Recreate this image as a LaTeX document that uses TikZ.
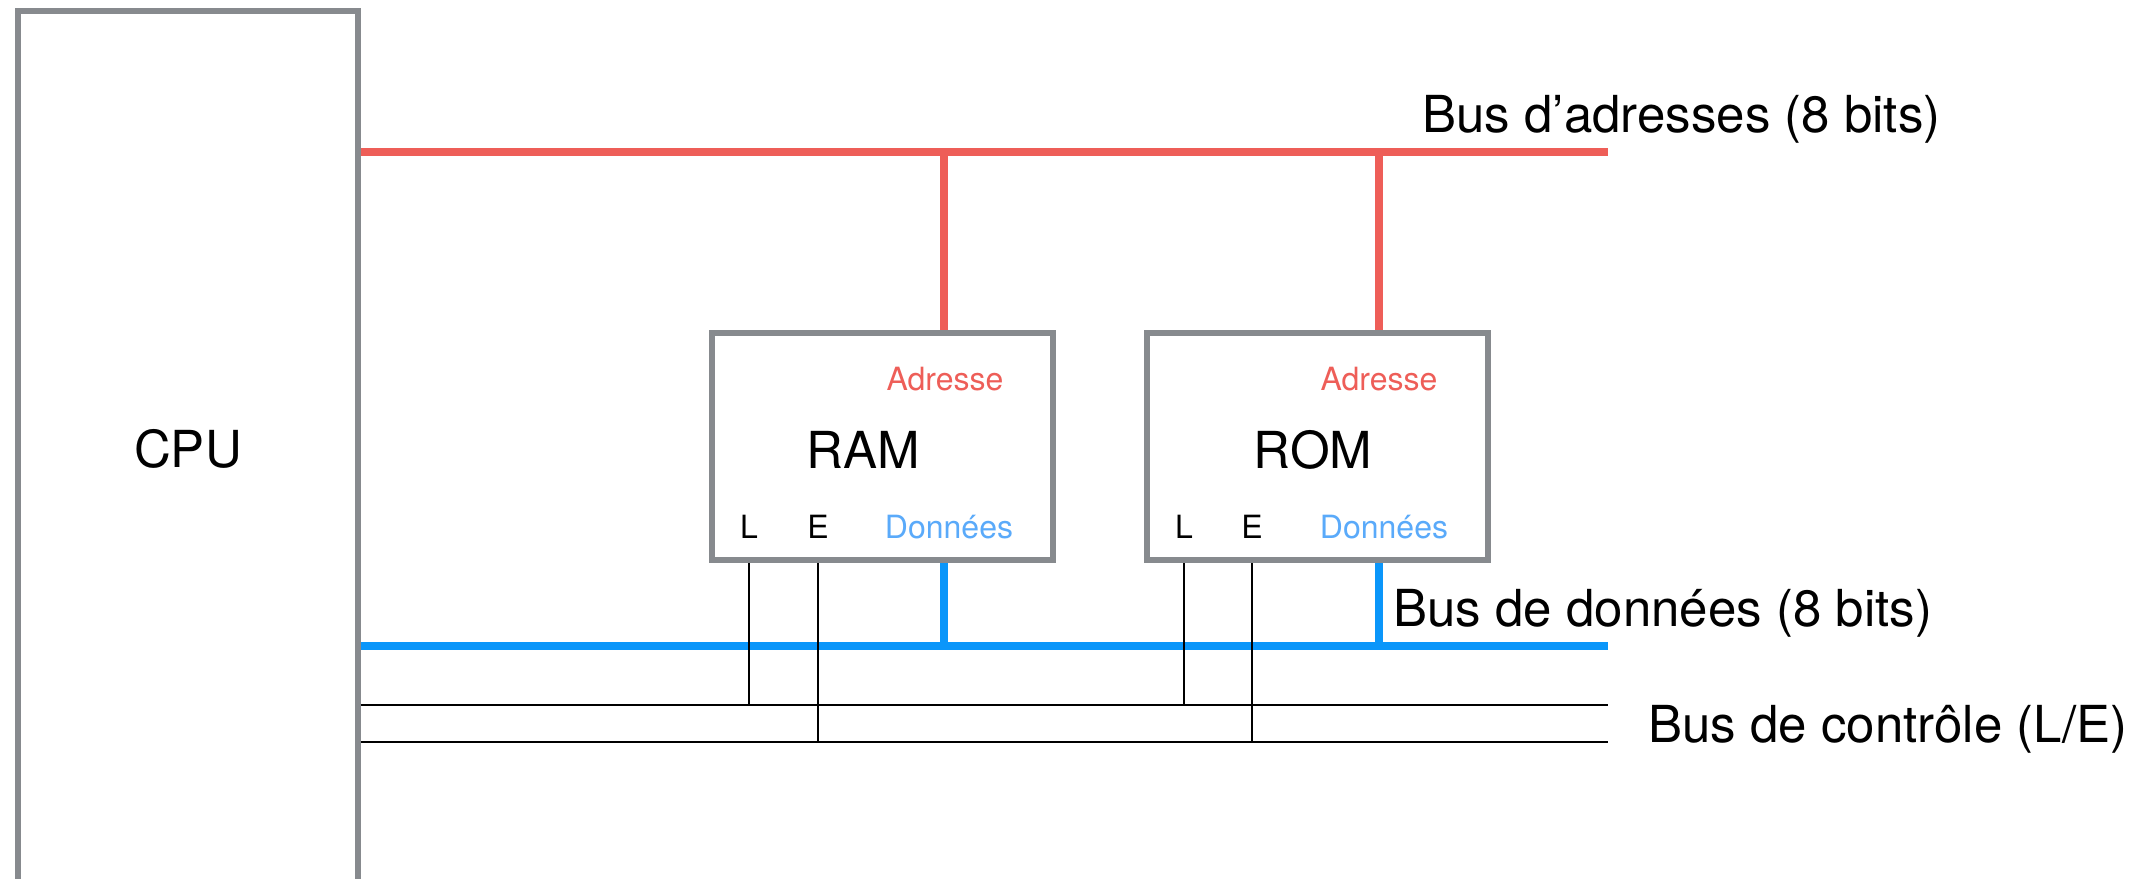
\documentclass[tikz,border=0pt]{standalone}
\usepackage{fontspec}
\setmainfont{TeX Gyre Heros}
\definecolor{boxgray}{RGB}{135,138,142}
\definecolor{addrred}{RGB}{238,94,88}
\definecolor{databus}{RGB}{10,150,250}
\definecolor{datatext}{RGB}{90,170,250}
\begin{document}
\begin{tikzpicture}[x=0.5pt,y=-0.5pt,
  unit/.style={draw=boxgray,line width=2.8pt,fill=white,inner sep=0pt},
  big/.style={font=\fontsize{25.5}{30}\selectfont,inner sep=0pt},
  small/.style={font=\fontsize{16}{19}\selectfont,inner sep=0pt,anchor=base},
  addr/.style={draw=addrred,line width=3.7pt},
  data/.style={draw=databus,line width=3.7pt},
  ctrl/.style={draw=black,line width=1.3pt}]
\useasboundingbox (0,0) rectangle (2152,878);
\clip (0,0) rectangle (2152,878);
% units
\node[unit,minimum width=170pt,minimum height=444.5pt] (cpu) at (188,455.5) {};
\node[big] (cpulbl) at (188,449) {CPU};
\node[unit,minimum width=170.5pt,minimum height=113.5pt] (ram) at (882.5,446.5) {};
\node[unit,minimum width=170.5pt,minimum height=113.5pt] (rom) at (1317.5,446.5) {};
\node[big] (ramlbl) at (863,450) {RAM};
\node[big] (romlbl) at (1313,450) {ROM};
\node[small,text=addrred] (ramA) at (945,390) {Adresse};
\node[small,text=addrred] (romA) at (1379,390) {Adresse};
\node[small,text=datatext] (ramD) at (949,538) {Données};
\node[small,text=datatext] (romD) at (1384,538) {Données};
\node[small] (ramL) at (749,538) {L};
\node[small] (ramE) at (818,538) {E};
\node[small] (romL) at (1184,538) {L};
\node[small] (romE) at (1252,538) {E};
% bus ends
\coordinate (aend) at (1608,152);
\coordinate (dend) at (1608,646);
\coordinate (c1end) at (1608,705);
\coordinate (c2end) at (1608,742);
\coordinate (ramAx) at (944,152);
\coordinate (romAx) at (1379,152);
\coordinate (ramDx) at (944,646);
\coordinate (romDx) at (1379,646);
\coordinate (ramLx) at (749,705);
\coordinate (ramEx) at (818,742);
\coordinate (romLx) at (1184,705);
\coordinate (romEx) at (1252,742);
% buses
\draw[addr] (cpu.east |- aend) -- (aend);
\draw[data] (cpu.east |- dend) -- (dend);
\draw[ctrl] (cpu.east |- c1end) -- (c1end);
\draw[ctrl] (cpu.east |- c2end) -- (c2end);
% taps
\draw[addr] (ramAx) -- (ramAx |- ram.north);
\draw[addr] (romAx) -- (romAx |- rom.north);
\draw[data] (ramDx) -- (ramDx |- ram.south);
\draw[data] (romDx) -- (romDx |- rom.south);
\draw[ctrl] (ramLx) -- (ramLx |- ram.south);
\draw[ctrl] (ramEx) -- (ramEx |- ram.south);
\draw[ctrl] (romLx) -- (romLx |- rom.south);
\draw[ctrl] (romEx) -- (romEx |- rom.south);
% bus labels
\node[big,anchor=base west] (alabel) at (1422,132) {Bus d’adresses (8 bits)};
\node[big,anchor=base west] (dlabel) at (1393,626) {Bus de données (8 bits)};
\node[big,anchor=base west] (clabel) at (1648,742) {Bus de contrôle (L/E)};
\end{tikzpicture}
\end{document}
